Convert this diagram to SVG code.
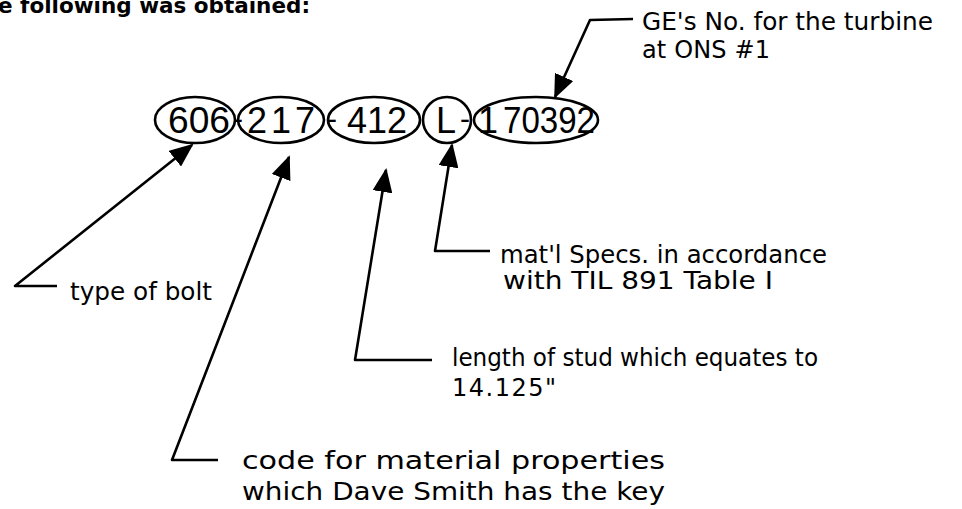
<svg xmlns="http://www.w3.org/2000/svg" width="962" height="509" viewBox="0 0 962 509">
<style>
.lbl{font-family:"DejaVu Sans","Liberation Sans",sans-serif;font-size:24px;fill:#000}
.hdr{font-family:"DejaVu Sans","Liberation Sans",sans-serif;font-size:21px;font-weight:bold;fill:#000}
.num{font-family:"Liberation Sans","DejaVu Sans",sans-serif;font-size:36px;fill:#000}
.dash{font-family:"Liberation Sans",sans-serif;font-size:30px;fill:#000}
.ell{fill:none;stroke:#000;stroke-width:2.6}
.con{fill:none;stroke:#000;stroke-width:2.6;stroke-linejoin:round}
</style>
<defs>
<marker id="ah" viewBox="0 0 24 20" refX="22" refY="10" markerWidth="24" markerHeight="20" markerUnits="userSpaceOnUse" orient="auto">
<path d="M0,0 L24,10 L0,20 Z" fill="#000"/>
</marker>
</defs>
<rect width="962" height="509" fill="#fff"/>
<text class="hdr" x="-2" y="13" textLength="312" lengthAdjust="spacingAndGlyphs">e following was obtained:</text>
<g id="n606"><ellipse class="ell" cx="195" cy="120" rx="40" ry="23"/><text class="num" x="168" y="133" textLength="62" lengthAdjust="spacingAndGlyphs">606</text></g>
<g id="n217"><ellipse class="ell" cx="281" cy="120" rx="43" ry="23"/><text class="dash" x="233" y="129">-</text><text class="num" x="247" y="133" textLength="68" lengthAdjust="spacing">217</text></g>
<g id="n412"><ellipse class="ell" cx="374" cy="120" rx="46" ry="23"/><text class="dash" x="327" y="129">-</text><text class="num" x="347" y="133" textLength="60" lengthAdjust="spacingAndGlyphs">412</text></g>
<g id="nL"><ellipse class="ell" cx="447" cy="120" rx="24" ry="23"/><text class="num" x="436" y="133">L</text><text class="dash" x="460" y="129">-</text></g>
<g id="n70392"><ellipse class="ell" cx="536" cy="120" rx="62" ry="23"/><text class="num" x="478" y="133">1</text><text class="num" x="503" y="133" textLength="92" lengthAdjust="spacingAndGlyphs">70392</text></g>
<g id="connectors">
<polyline class="con" points="57,286 15,286 192,145" marker-end="url(#ah)"/>
<polyline class="con" points="218,460 172,460 289,157" marker-end="url(#ah)"/>
<polyline class="con" points="432,360 355,360 386,170" marker-end="url(#ah)"/>
<polyline class="con" points="490,251 435,251 452,145" marker-end="url(#ah)"/>
<polyline class="con" points="633,19 590,20 555,97" marker-end="url(#ah)"/>
</g>
<g id="lblGE"><text class="lbl" x="642" y="30" textLength="291" lengthAdjust="spacingAndGlyphs">GE's No. for the turbine</text><text class="lbl" x="642" y="58" textLength="128" lengthAdjust="spacing">at ONS #1</text></g>
<g id="lblMat"><text class="lbl" x="500" y="263" textLength="327" lengthAdjust="spacingAndGlyphs">mat'l Specs. in accordance</text><text class="lbl" x="503" y="289" textLength="270" lengthAdjust="spacingAndGlyphs">with TIL 891 Table I</text></g>
<g id="lblBolt"><text class="lbl" x="70" y="300" textLength="142" lengthAdjust="spacingAndGlyphs">type of bolt</text></g>
<g id="lblLen"><text class="lbl" x="452" y="366" textLength="366" lengthAdjust="spacingAndGlyphs">length of stud which equates to</text><text class="lbl" x="452" y="396" textLength="104" lengthAdjust="spacing">14.125"</text></g>
<g id="lblCode"><text class="lbl" x="242" y="469" textLength="423" lengthAdjust="spacingAndGlyphs">code for material properties</text><text class="lbl" x="242" y="500" textLength="423" lengthAdjust="spacingAndGlyphs">which Dave Smith has the key</text></g>
</svg>
